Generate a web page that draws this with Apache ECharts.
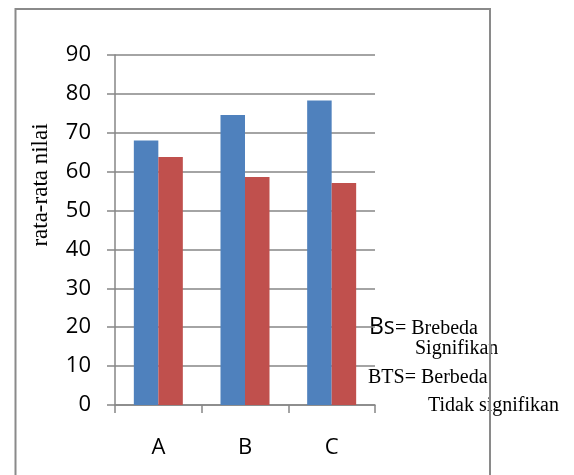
<!DOCTYPE html>
<html>
<head>
<meta charset="utf-8">
<script src="https://cdn.jsdelivr.net/npm/echarts@6/dist/echarts.min.js"></script>
<style>
  html, body { margin: 0; padding: 0; background: #fff; }
  #chart { width: 574px; height: 475px; }
</style>
</head>
<body>
<div id="chart"></div>
<script>
// Group labels and the two average-score series
const categories = ['A', 'B', 'C'];
const seriesBlue = [68, 74.6, 78.3];
const seriesRed = [63.8, 58.6, 57.1];
const yTicks = [0, 10, 20, 30, 40, 50, 60, 70, 80, 90];

const chart = echarts.init(document.getElementById('chart'), null, { renderer: 'canvas' });

const sansFont = '"Open Sans", "Noto Sans", sans-serif';
const serifFont = '"Liberation Serif", "DejaVu Serif", serif';
const axisGrey = '#868686';

const option = {
  animation: false,
  backgroundColor: '#ffffff',
  grid: { left: 115, right: 199, top: 55, bottom: 70, containLabel: false },
  xAxis: {
    type: 'category',
    data: categories,
    axisLine: { lineStyle: { color: axisGrey, width: 1.5 } },
    axisTick: { show: true, length: 8, inside: false, alignWithLabel: false,
      lineStyle: { color: axisGrey, width: 1.5 } },
    axisLabel: { margin: 32, fontFamily: sansFont, fontSize: 22, color: '#000' },
    splitLine: { show: false }
  },
  yAxis: {
    type: 'value',
    min: yTicks[0],
    max: yTicks[yTicks.length - 1],
    interval: yTicks[1] - yTicks[0],
    axisLine: { show: true, lineStyle: { color: axisGrey, width: 1.5 } },
    axisTick: { show: true, length: 8, inside: false, lineStyle: { color: axisGrey, width: 1.5 } },
    axisLabel: { margin: 24, fontFamily: sansFont, fontSize: 22, color: '#000' },
    splitLine: { show: true, lineStyle: { color: axisGrey, width: 1.5 } }
  },
  series: [
    {
      type: 'bar',
      data: seriesBlue,
      barWidth: 24.5,
      barGap: '0%',
      itemStyle: { color: '#4F81BD' }
    },
    {
      type: 'bar',
      data: seriesRed,
      barWidth: 24.5,
      barGap: '0%',
      itemStyle: { color: '#C0504D' }
    }
  ],
  graphic: [
    // vertical axis title
    {
      type: 'text',
      x: 41, y: 185,
      rotation: Math.PI / 2,
      style: {
        text: 'rata-rata nilai',
        font: '23px ' + serifFont,
        fill: '#000',
        align: 'center',
        verticalAlign: 'middle'
      }
    },
    // significance key
    {
      type: 'text', x: 369, y: 327,
      style: { text: 'Bs', font: '23px ' + sansFont, fill: '#000', align: 'left', verticalAlign: 'middle' }
    },
    {
      type: 'text', x: 395, y: 329,
      style: { text: '= Brebeda', font: '20px ' + serifFont, fill: '#000', align: 'left', verticalAlign: 'middle' }
    },
    {
      type: 'text', x: 415, y: 349,
      style: { text: 'Signifikan', font: '20px ' + serifFont, fill: '#000', align: 'left', verticalAlign: 'middle' }
    },
    {
      type: 'text', x: 368, y: 378,
      style: { text: 'BTS= Berbeda', font: '20px ' + serifFont, fill: '#000', align: 'left', verticalAlign: 'middle' }
    },
    {
      type: 'text', x: 428, y: 406,
      style: { text: 'Tidak signifikan', font: '20px ' + serifFont, fill: '#000', align: 'left', verticalAlign: 'middle' }
    },
    // outer chart frame
    {
      type: 'rect',
      z: 100,
      shape: { x: 15.5, y: 9, width: 474.5, height: 480 },
      style: { fill: 'none', stroke: '#8a8a8a', lineWidth: 2 }
    }
  ]
};

chart.setOption(option);
</script>
</body>
</html>
